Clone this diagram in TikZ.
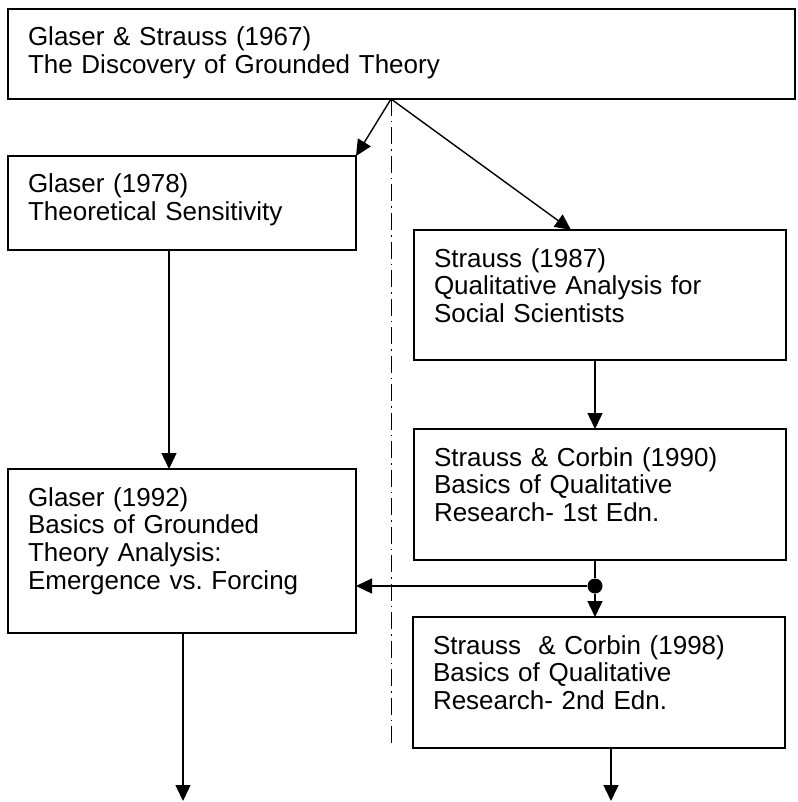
\documentclass[tikz,border=0pt]{standalone}
\usepackage{fontspec}
\setmainfont{Liberation Sans}
\usetikzlibrary{arrows.meta}
\frenchspacing

\begin{document}
\begin{tikzpicture}[x=1pt, y=-1pt,
	pub/.style={draw, line width=1.8pt, anchor=north west, align=left, inner xsep=20pt, inner ysep=0pt, outer sep=0pt, text height=37pt, font=\fontsize{26pt}{27.8pt}\selectfont},
	link/.style={line width=1.4pt, -{Triangle[length=16pt, width=15pt]}},
	junc/.style={circle, fill, inner sep=0pt, minimum size=15pt},
	divider/.style={line width=1pt, dash pattern=on 17pt off 5pt on 1.5pt off 5pt}]

	\useasboundingbox (0,0) rectangle (797,802);

%books
	\node[pub, text width=747pt, text depth=53pt] (discovery) at (8,9) {Glaser \& Strauss (1967)\\The Discovery of Grounded Theory};
	\node[pub, text width=308pt, text depth=57pt] (sensitivity) at (8,156) {Glaser (1978)\\Theoretical Sensitivity};
	\node[pub, text width=332pt, text depth=93pt] (qualanalysis) at (414,230) {Strauss (1987)\\Qualitative Analysis for\\Social Scientists};
	\node[pub, text width=332pt, text depth=94pt] (basicsone) at (414,429) {Strauss \& Corbin (1990)\\Basics of Qualitative\\Research- 1st Edn.};
	\node[pub, text width=308pt, text depth=127pt] (forcing) at (8,469) {Glaser (1992)\\Basics of Grounded\\Theory Analysis:\\Emergence vs. Forcing};
	\node[pub, text width=332pt, text depth=94pt] (basicstwo) at (413,617) {Strauss\ \ \& Corbin (1998)\\Basics of Qualitative\\Research- 2nd Edn.};

%split line
	\coordinate (split) at (391,99);
	\coordinate (splitend) at (391,745);
	\draw[divider] (split) -- (splitend);

%links
	\draw[link] (split) -- (sensitivity.north east);
	\draw[link] (split) -- (qualanalysis.114);
	\draw[link] ([xshift=-13pt]sensitivity.south) -- ([xshift=-13pt]forcing.north);
	\draw[link] ([xshift=-5pt]qualanalysis.south) -- ([xshift=-5pt]basicsone.north);

	\node[junc] (fork) at (595,586) {};
	\draw[line width=1.4pt] (basicsone.south -| fork) -- (fork);
	\draw[link] (fork) -- (basicstwo.north -| fork);
	\draw[link] (fork) -- (forcing.east |- fork);

	\coordinate (leftout) at (183,801);
	\coordinate (rightout) at (611,801);
	\draw[link] (forcing.south -| leftout) -- (leftout);
	\draw[link] (basicstwo.south -| rightout) -- (rightout);

\end{tikzpicture}
\end{document}
